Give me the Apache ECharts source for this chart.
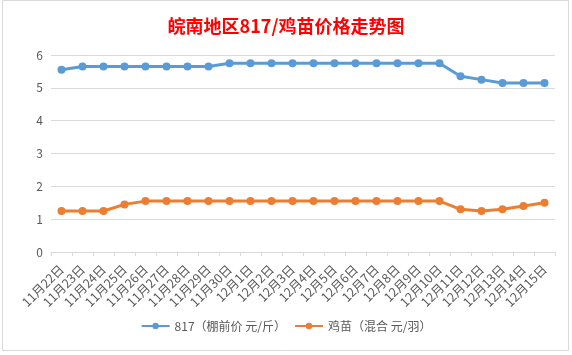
<!DOCTYPE html>
<html>
<head>
<meta charset="utf-8">
<script src="https://cdn.jsdelivr.net/npm/echarts@6/dist/echarts.min.js"></script>
<style>
html,body{margin:0;padding:0;background:#fff;}
#chart{width:572px;height:355px;}
</style>
</head>
<body>
<div id="chart"></div>
<script>
const titleText = '皖南地区817/鸡苗价格走势图';
const categories = ['11月22日','11月23日','11月24日','11月25日','11月26日','11月27日','11月28日','11月29日','11月30日',
  '12月1日','12月2日','12月3日','12月4日','12月5日','12月6日','12月7日','12月8日','12月9日','12月10日',
  '12月11日','12月12日','12月13日','12月14日','12月15日'];
const seriesNames = ['817（棚前价 元/斤）','鸡苗（混合 元/羽）'];
const price817 = [5.55,5.65,5.65,5.65,5.65,5.65,5.65,5.65,5.75,
  5.75,5.75,5.75,5.75,5.75,5.75,5.75,5.75,5.75,5.75,
  5.35,5.25,5.15,5.15,5.15];
const chickPrice = [1.25,1.25,1.25,1.45,1.55,1.55,1.55,1.55,1.55,
  1.55,1.55,1.55,1.55,1.55,1.55,1.55,1.55,1.55,1.55,
  1.3,1.25,1.3,1.4,1.5];
const yTicks = [0,1,2,3,4,5,6];

const font = '"Noto Sans CJK SC", "Microsoft YaHei", sans-serif';
const chart = echarts.init(document.getElementById('chart'), null, {renderer:'canvas'});
chart.setOption({
  animation:false,
  backgroundColor:'#fff',
  graphic:[{type:'rect', shape:{x:2.5,y:0.5,width:566,height:350}, style:{fill:'none', stroke:'#d9d9d9', lineWidth:1}, silent:true}],
  title:{text:titleText, left:'center', top:12,
    textStyle:{color:'#FF0000', fontSize:18, fontWeight:'bold', fontFamily:font}},
  legend:{bottom:18, left:'center', itemWidth:28, itemHeight:8, itemGap:8,
    textStyle:{color:'#595959', fontSize:12, fontFamily:font},
    data:seriesNames},
  grid:{left:51, right:17, top:55, bottom:103, containLabel:false},
  xAxis:{type:'category', data:categories, boundaryGap:true,
    axisLine:{lineStyle:{color:'#d9d9d9', width:1}},
    axisTick:{show:true, length:4, lineStyle:{color:'#d9d9d9'}},
    axisLabel:{rotate:45, interval:0, margin:15, color:'#595959', fontSize:12.5, fontFamily:font}},
  yAxis:{type:'value', min:yTicks[0], max:yTicks[yTicks.length-1], interval:1,
    axisLine:{show:false}, axisTick:{show:false},
    splitLine:{lineStyle:{color:'#d9d9d9', width:1}},
    axisLabel:{margin:8, color:'#595959', fontSize:12, fontFamily:font}},
  series:[
    {name:seriesNames[0], type:'line', data:price817, symbol:'circle', symbolSize:8,
      itemStyle:{color:'#5B9BD5'}, lineStyle:{color:'#5B9BD5', width:3}},
    {name:seriesNames[1], type:'line', data:chickPrice, symbol:'circle', symbolSize:8,
      itemStyle:{color:'#ED7D31'}, lineStyle:{color:'#ED7D31', width:3}}
  ]
});
</script>
</body>
</html>
